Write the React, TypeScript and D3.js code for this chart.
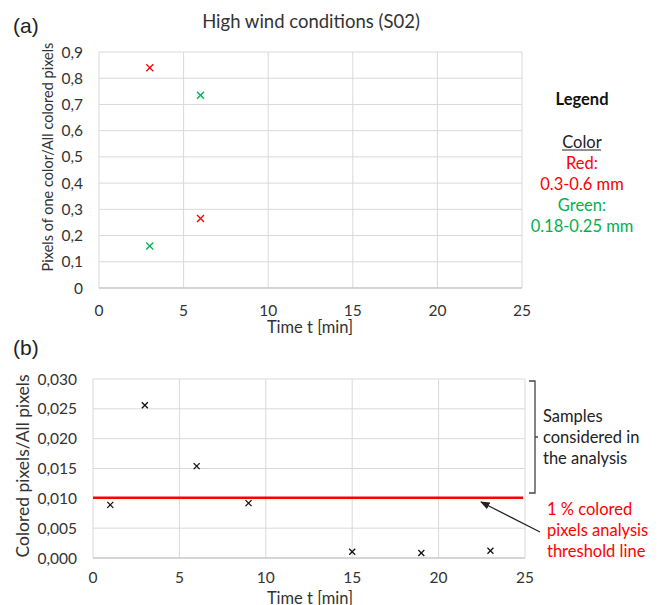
import React from "react";
import * as d3 from "d3";

const xTicks = [0, 5, 10, 15, 20, 25];
const yTicksA = [0, 0.1, 0.2, 0.3, 0.4, 0.5, 0.6, 0.7, 0.8, 0.9];
const yTicksB = [0, 0.005, 0.01, 0.015, 0.02, 0.025, 0.03];

const redT = [3, 6];
const redV = [0.84, 0.265];
const greenT = [3, 6];
const greenV = [0.16, 0.735];

const bT = [1, 3, 6, 9, 15, 19, 23];
const bV = [0.0089, 0.0256, 0.0154, 0.0092, 0.00106, 0.00084, 0.00122];
const threshold = 0.0101;

const FONT = "Lato, 'Open Sans', sans-serif";
const GRID = "#d9d9d9";
const RED = "#ff0000";
const GREEN = "#00b050";

function Cross({ x, y, r, color }: { x: number; y: number; r: number; color: string }) {
  return (
    <g stroke={color} strokeWidth={1.3}>
      <line x1={x - r} y1={y - r} x2={x + r} y2={y + r} />
      <line x1={x - r} y1={y + r} x2={x + r} y2={y - r} />
    </g>
  );
}

export default function App() {
  const xa = d3.scaleLinear().domain([0, 25]).range([99, 522]);
  const ya = d3.scaleLinear().domain([0, 0.9]).range([288, 52]);
  const xb = d3.scaleLinear().domain([0, 25]).range([93, 525]);
  const yb = d3.scaleLinear().domain([0, 0.03]).range([558, 379]);
  const fmtA = (v: number) => (v === 0 ? "0" : d3.format(".1f")(v).replace(".", ","));
  const fmtB = (v: number) => d3.format(".3f")(v).replace(".", ",");

  return (
    <svg
      width={658}
      height={605}
      style={{ position: "fixed", left: 0, top: 0, background: "#fff" }}
      fontFamily={FONT}
    >
      <rect width={658} height={605} fill="#fff" />
      {/* Panel a */}
      <text x={13} y={33} fontSize={21} fill="#222" fontFamily="'Liberation Sans', Arial, sans-serif">(a)</text>
      <text x={311} y={28} fontSize={18.5} textAnchor="middle" fill="#333">High wind conditions (S02)</text>
      {yTicksA.map((t) => (
        <line key={"ga" + t} x1={xa(0)} x2={xa(25)} y1={ya(t)} y2={ya(t)} stroke={GRID} strokeWidth={1} />
      ))}
      {xTicks.map((t) => (
        <line key={"gxa" + t} x1={xa(t)} x2={xa(t)} y1={ya(0)} y2={ya(0.9)} stroke={GRID} strokeWidth={1} />
      ))}
      <line x1={xa(0)} x2={xa(25)} y1={ya(0)} y2={ya(0)} stroke="#bfbfbf" />
      {yTicksA.map((t) => (
        <text key={"la" + t} x={83} y={ya(t) + 5.5} fontSize={15.5} textAnchor="end" fill="#333">{fmtA(t)}</text>
      ))}
      {xTicks.map((t) => (
        <text key={"lxa" + t} x={xa(t)} y={316} fontSize={15.5} textAnchor="middle" fill="#333">{t}</text>
      ))}
      <text x={310} y={333} fontSize={16.5} textAnchor="middle" fill="#333">Time t [min]</text>
      <text transform={`translate(53,157) rotate(-90)`} fontSize={14.5} textAnchor="middle" fill="#333">
        Pixels of one color/All colored pixels
      </text>
      {redT.map((t, i) => (
        <Cross key={"r" + i} x={xa(t)} y={ya(redV[i])} r={3.5} color={RED} />
      ))}
      {greenT.map((t, i) => (
        <Cross key={"g" + i} x={xa(t)} y={ya(greenV[i])} r={3.5} color={GREEN} />
      ))}
      {/* Legend */}
      <text x={582} y={105} fontSize={16.5} fontWeight="bold" textAnchor="middle" fill="#111">Legend</text>
      <text x={582} y={148} fontSize={16.5} textAnchor="middle" fill="#222">Color</text>
      <line x1={562} x2={601} y1={150} y2={150} stroke="#222" strokeWidth={1} />
      <text x={582} y={169} fontSize={16.5} textAnchor="middle" fill={RED}>Red:</text>
      <text x={582} y={190} fontSize={16.5} textAnchor="middle" fill={RED}>0.3-0.6 mm</text>
      <text x={582} y={211} fontSize={16.5} textAnchor="middle" fill={GREEN}>Green:</text>
      <text x={582} y={232} fontSize={16.5} textAnchor="middle" fill={GREEN}>0.18-0.25 mm</text>

      {/* Panel b */}
      <text x={13} y={355} fontSize={21} fill="#222" fontFamily="'Liberation Sans', Arial, sans-serif">(b)</text>
      {yTicksB.map((t) => (
        <line key={"gb" + t} x1={xb(0)} x2={xb(25)} y1={yb(t)} y2={yb(t)} stroke={GRID} strokeWidth={1} />
      ))}
      {xTicks.map((t) => (
        <line key={"gxb" + t} x1={xb(t)} x2={xb(t)} y1={yb(0)} y2={yb(0.03)} stroke={GRID} strokeWidth={1} />
      ))}
      <line x1={xb(0)} x2={xb(25)} y1={yb(0)} y2={yb(0)} stroke="#bfbfbf" />
      {yTicksB.map((t) => (
        <text key={"lb" + t} x={77} y={yb(t) + 5.5} fontSize={15.5} textAnchor="end" fill="#333">{fmtB(t)}</text>
      ))}
      {xTicks.map((t) => (
        <text key={"lxb" + t} x={xb(t)} y={583} fontSize={15.5} textAnchor="middle" fill="#333">{t}</text>
      ))}
      <text x={310} y={604} fontSize={16.5} textAnchor="middle" fill="#333">Time t [min]</text>
      <text transform={`translate(29,466) rotate(-90)`} fontSize={17.5} textAnchor="middle" fill="#333">
        Colored pixels/All pixels
      </text>
      <line x1={xb(0)} x2={xb(25) - 2} y1={yb(threshold)} y2={yb(threshold)} stroke={RED} strokeWidth={2.5} />
      {bT.map((t, i) => (
        <Cross key={"b" + i} x={xb(t)} y={yb(bV[i])} r={3} color="#111" />
      ))}
      {/* bracket */}
      <path d="M529,381 L535,381 L535,493 L529,493 M535,437 L538,437" fill="none" stroke="#444" strokeWidth={1.3} />
      <text fontSize={16.5} fill="#222">
        <tspan x={543} y={422}>Samples</tspan>
        <tspan x={543} y={443}>considered in</tspan>
        <tspan x={543} y={464}>the analysis</tspan>
      </text>
      {/* arrow */}
      <defs>
        <marker id="ah" viewBox="0 0 10 10" refX={9} refY={5} markerWidth={8} markerHeight={8} orient="auto">
          <path d="M0,1 L10,5 L0,9 Z" fill="#222" />
        </marker>
      </defs>
      <line x1={540} y1={532} x2={481} y2={502} stroke="#222" strokeWidth={1.2} markerEnd="url(#ah)" />
      <text fontSize={16.5} fill={RED}>
        <tspan x={547} y={515}>1 % colored</tspan>
        <tspan x={547} y={536}>pixels analysis</tspan>
        <tspan x={547} y={557}>threshold line</tspan>
      </text>
    </svg>
  );
}
